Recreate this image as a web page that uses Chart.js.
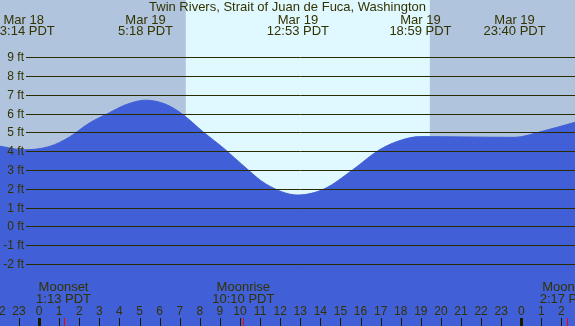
<!DOCTYPE html>
<html>
<head>
<meta charset="utf-8">
<script src="https://cdn.jsdelivr.net/npm/chart.js@4.4.0/dist/chart.umd.min.js"></script>
<style>
  html, body { margin: 0; padding: 0; background: #b0c4de; }
  #wrap { width: 575px; height: 326px; position: relative; }
</style>
</head>
<body>
<div id="wrap"><canvas id="canvas-tide"></canvas></div>
<script>
// hours are counted from Mar 19 00:00 PDT
const chartTitle = "Twin Rivers, Strait of Juan de Fuca, Washington";
const tideHours = [-2, -0.767, 0.5, 1.5, 2.5, 3.5, 4.3, 5.3, 6.3, 7.1, 8.2, 9.2, 10.2, 11.3, 12.883, 14.2, 15.6, 16.9, 17.9, 18.983, 21.3, 23.667, 25.0, 26.7];
const tideHeights = [4.28, 4.08, 4.25, 4.75, 5.5, 6.05, 6.47, 6.72, 6.5, 6.0, 5.0, 4.15, 3.2, 2.25, 1.67, 2.0, 3.0, 4.05, 4.55, 4.78, 4.76, 4.74, 5.05, 5.55];

const eventHours = [-0.767, 5.3, 12.883, 18.983, 23.667];
const eventDates = ["Mar 18", "Mar 19", "Mar 19", "Mar 19", "Mar 19"];
const eventTimes = ["23:14 PDT", "5:18 PDT", "12:53 PDT", "18:59 PDT", "23:40 PDT"];

const moonHours = [1.217, 10.167, 26.283];
const moonNames = ["Moonset", "Moonrise", "Moonset"];
const moonTimes = ["1:13 PDT", "10:10 PDT", "2:17 PDT"];

const sunriseHour = 7.3;
const sunsetHour = 19.45;

const feetTicks = [-2, -1, 0, 1, 2, 3, 4, 5, 6, 7, 8, 9];
const hourTicks = [-2, -1, 0, 1, 2, 3, 4, 5, 6, 7, 8, 9, 10, 11, 12, 13, 14, 15, 16, 17, 18, 19, 20, 21, 22, 23, 24, 25, 26, 27];

const textColor = "#333300";
const bigFont = "13px 'Liberation Sans', Arial, sans-serif";
const smallFont = "12px 'Liberation Sans', Arial, sans-serif";

const tidePlugin = {
  id: "tideDecor",
  beforeDraw(chart) {
    const ctx = chart.ctx;
    const x = chart.scales.x;
    ctx.save();
    ctx.fillStyle = "#b0c4de";
    ctx.fillRect(0, 0, chart.width, chart.height);
    const x1 = x.getPixelForValue(sunriseHour);
    const x2 = x.getPixelForValue(sunsetHour);
    ctx.fillStyle = "#e0f8ff";
    ctx.fillRect(x1, 0, x2 - x1, chart.height);
    ctx.restore();
  },
  afterDatasetsDraw(chart) {
    const ctx = chart.ctx;
    const x = chart.scales.x;
    const y = chart.scales.y;
    const w = chart.width;
    const h = chart.height;
    ctx.save();
    ctx.fillStyle = textColor;

    // feet grid lines and labels
    ctx.font = smallFont;
    ctx.strokeStyle = "#2b2b00";
    ctx.lineWidth = 1;
    feetTicks.forEach((f) => {
      const py = Math.round(y.getPixelForValue(f)) + 0.5;
      ctx.beginPath();
      ctx.moveTo(26, py);
      ctx.lineTo(w, py);
      ctx.stroke();
      ctx.textAlign = "right";
      ctx.textBaseline = "middle";
      ctx.fillText(f + " ft", 24, py);
    });

    // title
    ctx.font = bigFont;
    ctx.textAlign = "center";
    ctx.textBaseline = "middle";
    ctx.fillText(chartTitle, w / 2, 7.5);

    // high / low labels
    eventHours.forEach((eh, i) => {
      const px = x.getPixelForValue(eh);
      ctx.fillText(eventDates[i], px, 20);
      ctx.fillText(eventTimes[i], px, 31.5);
    });

    // moon labels
    moonHours.forEach((mh, i) => {
      const px = x.getPixelForValue(mh);
      ctx.fillStyle = textColor;
      ctx.fillText(moonNames[i], px, 287.5);
      ctx.fillText(moonTimes[i], px, 299);
      ctx.fillStyle = "#ff0000";
      ctx.fillRect(Math.round(px), 318, 1, h - 318);
    });

    // hour ticks and labels
    ctx.font = smallFont;
    hourTicks.forEach((hr) => {
      const px = x.getPixelForValue(hr);
      const label = ((hr % 24) + 24) % 24;
      ctx.fillStyle = textColor;
      ctx.fillText(String(label), px, 311.5);
      ctx.fillStyle = "#1a1a00";
      if (label === 0) {
        ctx.fillRect(Math.round(px) - 1, 318, 3, h - 318);
      } else {
        ctx.fillRect(Math.round(px), 318, 1, h - 318);
      }
    });
    ctx.restore();
  },
};

const points = tideHours.map((t, i) => ({ x: t, y: tideHeights[i] }));

new Chart(document.getElementById("canvas-tide"), {
  type: "line",
  data: {
    datasets: [
      {
        data: points,
        fill: "start",
        backgroundColor: "#415fd6",
        borderColor: "#415fd6",
        borderWidth: 1,
        pointRadius: 0,
        cubicInterpolationMode: "monotone",
      },
    ],
  },
  options: {
    responsive: true,
    maintainAspectRatio: false,
    animation: false,
    layout: { padding: 0 },
    plugins: {
      legend: { display: false },
      tooltip: { enabled: false },
    },
    scales: {
      x: { type: "linear", min: -1.946, max: 26.675, display: false },
      y: { min: -5.30, max: 12.05, display: false },
    },
  },
  plugins: [tidePlugin],
});
</script>
</body>
</html>
